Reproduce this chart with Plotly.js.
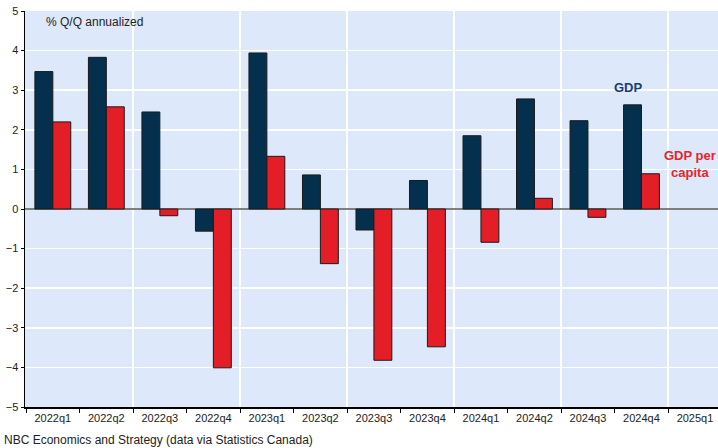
<!DOCTYPE html>
<html>
<head>
<meta charset="utf-8">
<script src="https://cdn.plot.ly/plotly-3.0.1.min.js"></script>
<style>
  html, body { margin: 0; padding: 0; background: #fff; }
  #chart { width: 718px; height: 448px; }
</style>
</head>
<body>
<div id="chart"></div>
<script>
const quarters = ['2022q1', '2022q2', '2022q3', '2022q4', '2023q1', '2023q2', '2023q3',
                  '2023q4', '2024q1', '2024q2', '2024q3', '2024q4', '2025q1'];
const gdp       = [3.47, 3.83, 2.45, -0.56, 3.94, 0.86, -0.53, 0.72, 1.85, 2.78, 2.23, 2.63, null];
const gdpPerCap = [2.20, 2.58, -0.17, -4.01, 1.33, -1.38, -3.82, -3.48, -0.84, 0.27, -0.21, 0.89, null];

const idx = quarters.map((q, i) => i);
const boundaries = quarters.map((q, i) => i - 0.5).concat([quarters.length - 0.5]);
const gridAt = boundaries.filter((b, i) => i % 2 === 0 && i > 0);

const font = 'Liberation Sans, Arial, sans-serif';

const gdpTrace = {
    x: idx,
    y: gdp,
    type: 'bar',
    name: 'GDP',
    marker: { color: '#04304d', line: { color: '#1a1a1a', width: 1 } },
    hoverinfo: 'y'
};

const perCapTrace = {
    x: idx,
    y: gdpPerCap,
    type: 'bar',
    name: 'GDP per capita',
    marker: { color: '#e31e26', line: { color: '#1a1a1a', width: 1 } },
    hoverinfo: 'y'
};

// invisible trace on the overlay axis so it draws its grid
const gridTrace = {
    x: gridAt,
    y: gridAt.map(() => null),
    xaxis: 'x2',
    type: 'scatter',
    mode: 'markers',
    showlegend: false,
    hoverinfo: 'skip'
};

const xRange = [-0.52, 12.43];

const layout = {
    width: 718,
    height: 448,
    margin: { l: 25, r: 0, t: 11, b: 41 },
    paper_bgcolor: '#ffffff',
    plot_bgcolor: '#dde9fb',
    showlegend: false,
    barmode: 'group',
    bargap: 0.33,
    bargroupgap: 0,
    font: { family: font, size: 11, color: '#222' },
    xaxis: {
        range: xRange,
        tickmode: 'array',
        tickvals: idx,
        ticktext: quarters,
        ticks: '',
        showgrid: false,
        zeroline: false,
        showline: true,
        linecolor: '#000',
        linewidth: 1.5,
        tickfont: { family: font, size: 11, color: '#222' },
        minor: {
            tickmode: 'array',
            tickvals: boundaries,
            ticks: 'outside',
            ticklen: 4,
            tickcolor: '#000',
            tickwidth: 1,
            showgrid: false
        }
    },
    xaxis2: {
        overlaying: 'x',
        range: xRange,
        tickmode: 'array',
        tickvals: gridAt,
        showticklabels: false,
        ticks: '',
        showgrid: true,
        gridcolor: '#ffffff',
        gridwidth: 1.5,
        zeroline: false,
        layer: 'below traces'
    },
    yaxis: {
        range: [-5, 5],
        tickmode: 'linear',
        tick0: -5,
        dtick: 1,
        ticks: 'outside',
        ticklen: 3,
        tickcolor: '#000',
        showgrid: true,
        gridcolor: '#ffffff',
        gridwidth: 1.5,
        zeroline: true,
        zerolinecolor: '#7f7f7f',
        zerolinewidth: 1.5,
        showline: true,
        linecolor: '#000',
        linewidth: 1.5,
        tickfont: { family: font, size: 11, color: '#222' }
    },
    annotations: [
        {
            text: '% Q/Q annualized', xref: 'paper', yref: 'paper',
            x: 0.028, y: 0.972, xanchor: 'left', yanchor: 'middle', showarrow: false,
            font: { family: font, size: 12, color: '#222' }
        },
        {
            text: '<b>GDP</b>', xref: 'x', yref: 'y',
            x: 10.75, y: 3.08, xanchor: 'center', yanchor: 'middle', showarrow: false,
            font: { family: font, size: 13, color: '#1b3a78' }
        },
        {
            text: '<b>GDP per<br>capita</b>', xref: 'x', yref: 'y',
            x: 11.9, y: 1.14, xanchor: 'center', yanchor: 'middle', showarrow: false,
            font: { family: font, size: 13, color: '#e8232b' }
        },
        {
            text: 'NBC Economics and Strategy (data via Statistics Canada)', xref: 'paper', yref: 'paper',
            x: -0.033, y: -0.083, xanchor: 'left', yanchor: 'middle', showarrow: false,
            font: { family: font, size: 12, color: '#222' }
        }
    ]
};

Plotly.newPlot('chart', [gridTrace, gdpTrace, perCapTrace], layout, { displayModeBar: false, staticPlot: true });
</script>
</body>
</html>
